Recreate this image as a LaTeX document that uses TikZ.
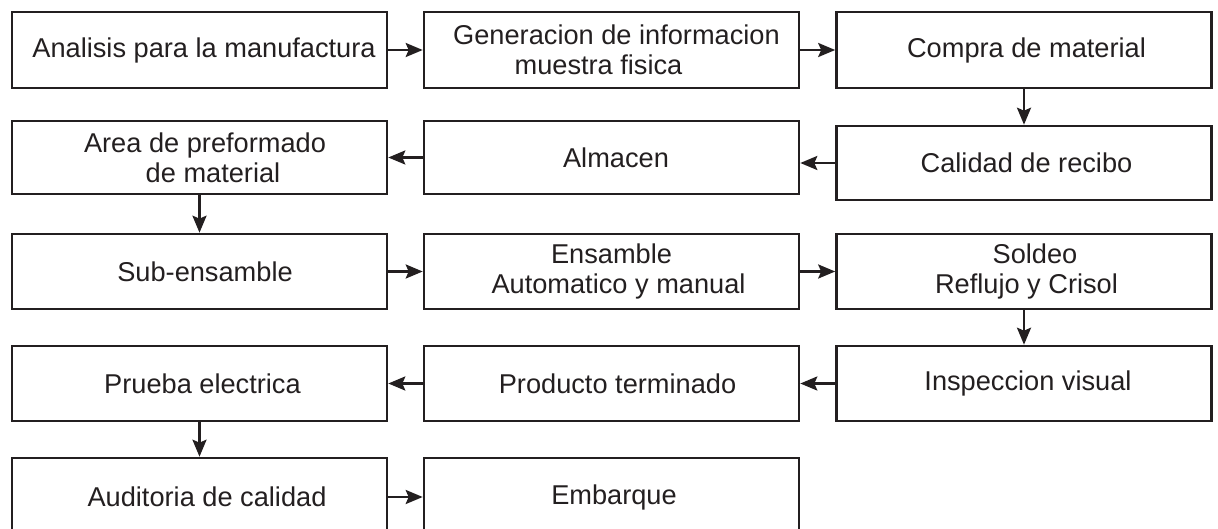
\documentclass[tikz,border=0pt]{standalone}
\usepackage{fontspec}
\setmainfont{Liberation Sans}
\usetikzlibrary{arrows.meta}
\definecolor{ink}{HTML}{231F20}
\begin{document}
\begin{tikzpicture}[x=1pt,y=-1pt,
  procbox/.style={draw=ink, line width=2.6pt, minimum width=375pt, minimum height=75pt,
    inner sep=0pt, align=center, text=ink, font=\fontsize{27.2}{30}\selectfont},
  flow/.style={draw=ink, line width=2.6pt, -{Stealth[length=17pt,width=14pt,inset=3pt]}}]
\useasboundingbox (0,0) rectangle (1218,529);
\clip (0,0) rectangle (1218,529);
% row 1
\node[procbox, minimum height=76pt] (a1) at (199.5,50) {\hspace*{9pt}Analisis para la manufactura};
\node[procbox, minimum height=76pt] (a2) at (611.5,50) {\hspace*{10pt}Generacion de informacion\\muestra fisica\hspace*{26pt}};
\node[procbox, minimum height=76pt] (a3) at (1024,50) {\hspace*{5pt}Compra de material};
% row 2
\node[procbox, minimum height=74pt] (a4) at (1024,163) {\hspace*{5pt}Calidad de recibo};
\node[procbox, minimum height=73pt] (a5) at (611.5,157.5) {\hspace*{9pt}Almacen};
\node[procbox, minimum height=73pt] (a6) at (199.5,157.5) {\hspace*{11pt}Area de preformado\\\hspace*{27pt}de material};
% row 3
\node[procbox] (a7) at (199.5,271.5) {\hspace*{11pt}Sub-ensamble};
\node[procbox] (a8) at (611.5,271.5) {Ensamble\\\hspace*{14pt}Automatico y manual};
\node[procbox] (a9) at (1024,271.5) {\hspace*{22pt}Soldeo\\\hspace*{5pt}Reflujo y Crisol};
% row 4
\node[procbox] (a10) at (1024,383.5) {\hspace*{8pt}Inspeccion visual};
\node[procbox] (a11) at (611.5,383.5) {\hspace*{12pt}Producto terminado};
\node[procbox] (a12) at (199.5,383.5) {\hspace*{6pt}Prueba electrica};
% row 5
\node[procbox, minimum height=78pt] (a13) at (199.5,497) {\hspace*{15pt}Auditoria de calidad};
\node[procbox, minimum height=78pt] (a14) at (611.5,497) {\hspace*{5pt}Embarque};
% connectors
\draw[flow] (a1) -- (a2);
\draw[flow] (a2) -- (a3);
\draw[flow] (a3) -- (a4);
\draw[flow] (a4.west) -- (a4.west -| a5.east);
\draw[flow] (a5) -- (a6);
\draw[flow] (a6) -- (a7);
\draw[flow] (a7) -- (a8);
\draw[flow] (a8) -- (a9);
\draw[flow] (a9) -- (a10);
\draw[flow] (a10) -- (a11);
\draw[flow] (a11) -- (a12);
\draw[flow] (a12) -- (a13);
\draw[flow] (a13) -- (a14);
\end{tikzpicture}
\end{document}
